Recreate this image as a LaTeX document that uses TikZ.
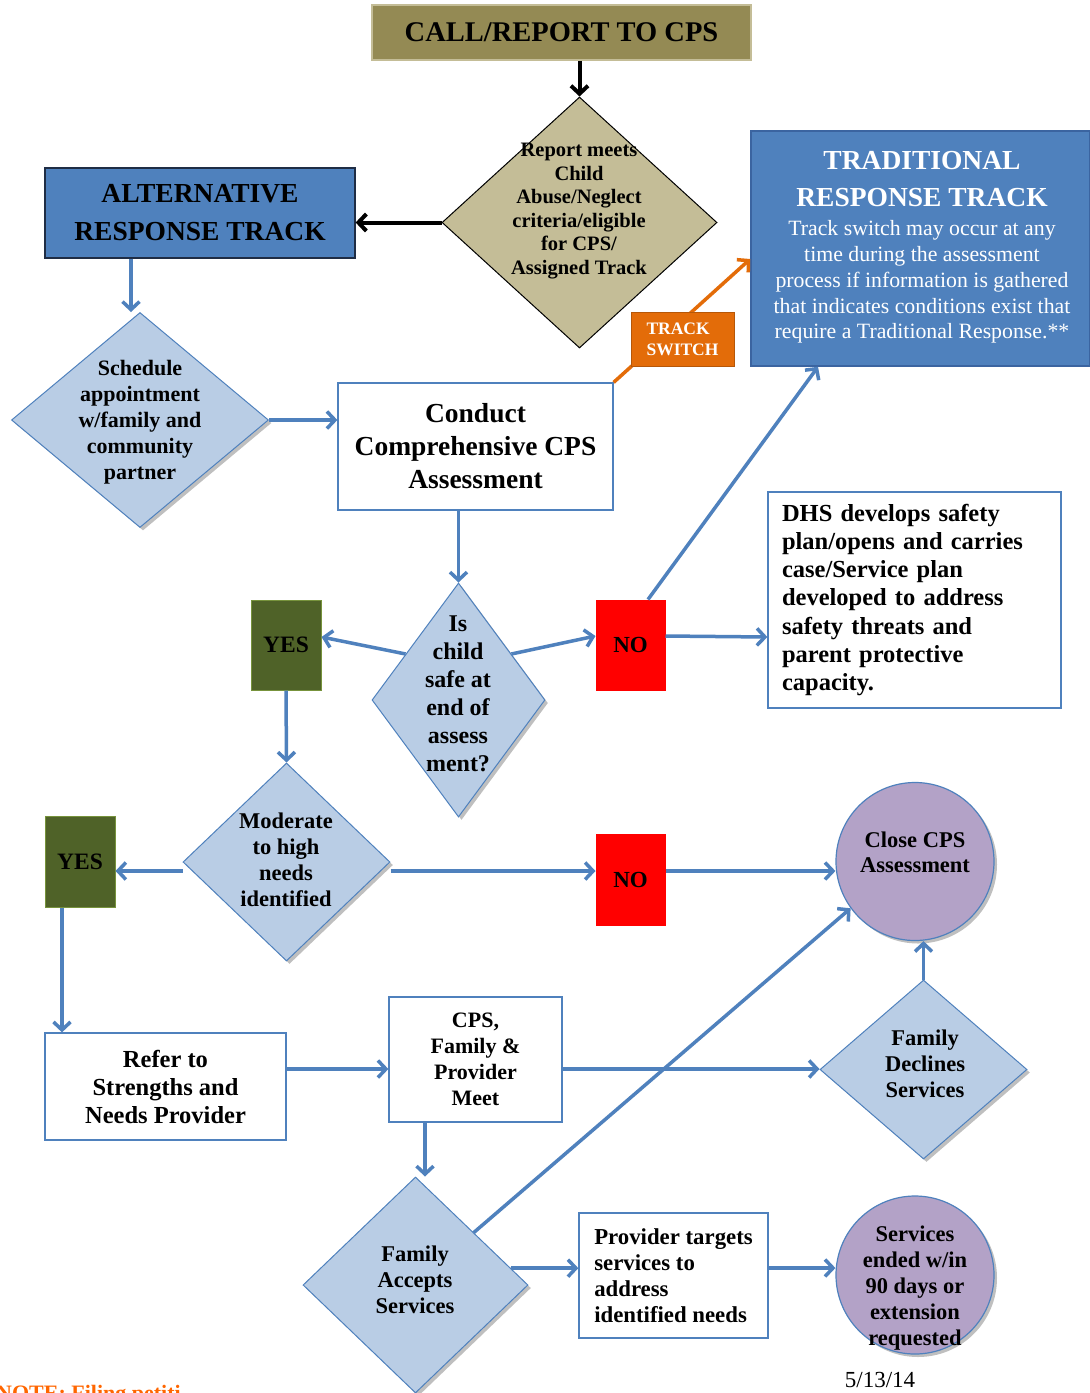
\documentclass[tikz,border=0pt]{standalone}
\usepackage{fontspec}
\setmainfont{Liberation Serif}
\usetikzlibrary{arrows.meta,shapes.geometric,shadows,calc}
\newcommand{\myfs}[2]{\fontsize{#1}{#2}\selectfont}
\definecolor{olivebox}{HTML}{948A54}
\definecolor{olivebd}{HTML}{C4BD97}
\definecolor{tanfill}{HTML}{C4BD97}
\definecolor{mblue}{HTML}{4F81BD}
\definecolor{ltblue}{HTML}{B9CDE5}
\definecolor{altbd}{HTML}{1F2D45}
\definecolor{tradbd}{HTML}{3B64A0}
\definecolor{ygreen}{HTML}{4F6228}
\definecolor{ygreenbd}{HTML}{77933C}
\definecolor{tsorange}{HTML}{E36C09}
\definecolor{tsorangebd}{HTML}{B65708}
\definecolor{purp}{HTML}{B3A2C7}
\definecolor{notecol}{HTML}{FF6600}
\begin{document}
\begin{tikzpicture}[x=1pt,y=-1pt,
  rbox/.style={rectangle, draw=mblue, line width=1.3pt, fill=white, inner sep=0pt, align=center},
  ldia/.style={diamond, draw=mblue, line width=1pt, fill=ltblue, inner sep=0pt,
     drop shadow={shadow xshift=3pt, shadow yshift=-3pt, opacity=0.25, fill=black}},
  pcirc/.style={circle, draw=mblue, line width=1.2pt, fill=purp, inner sep=0pt, minimum size=158pt,
     drop shadow={shadow xshift=3pt, shadow yshift=-3pt, opacity=0.25, fill=black}},
  dtext/.style={inner sep=0pt, align=center, font=\myfs{22.5}{26}\bfseries},
  yesbox/.style={rectangle, fill=ygreen, draw=ygreenbd, line width=1pt, inner sep=0pt,
     minimum width=70pt, font=\myfs{23.5}{26}\bfseries},
  nobox/.style={rectangle, fill=red, draw=red, line width=1pt, inner sep=0pt,
     minimum width=69pt, font=\myfs{23}{26}\bfseries},
  barr/.style={draw=mblue, line width=3.5pt, -{Straight Barb[length=8pt,width=17pt]}},
  karr/.style={draw=black, line width=4pt, -{Straight Barb[length=8pt,width=17pt]}},
  oarr/.style={draw=tsorange, line width=3.5pt, -{Straight Barb[length=8pt,width=17pt]}}
]
\useasboundingbox (0,0) rectangle (1090,1393);
\clip (0,0) rectangle (1090,1393);
\fill[white] (0,0) rectangle (1090,1393);

% top
\node[rectangle, fill=olivebox, draw=olivebd, line width=1.5pt, minimum width=379pt, minimum height=55pt,
  inner sep=0pt, font=\myfs{28.5}{32}\bfseries] (top) at (561.5,32.5) {CALL/REPORT TO CPS};

% report diamond
\node[diamond, draw=black, line width=1pt, fill=tanfill, minimum width=275pt, minimum height=251pt,
  inner sep=0pt] (rep) at (579.5,222.5) {};
\node[dtext, font=\myfs{20.5}{23.5}\bfseries] (rept) at (579,211)
  {Report meets\\Child\\Abuse/Neglect\\criteria/eligible\\for CPS/\\Assigned Track};

% alternative
\node[rectangle, fill=mblue, draw=altbd, line width=1.3pt, minimum width=310pt, minimum height=90pt,
  inner sep=0pt, align=center, font=\myfs{27.5}{38}\bfseries] (alt) at (200,213) {ALTERNATIVE\\RESPONSE TRACK};

% traditional
\node[rectangle, fill=mblue, draw=tradbd, line width=1.5pt, minimum width=339pt, minimum height=235pt,
  inner sep=0pt] (trad) at (920.5,248.5) {};
\node[text=white, align=center, inner sep=0pt, font=\myfs{27.5}{37}\bfseries] (tradh) at (922,179)
  {TRADITIONAL\\RESPONSE TRACK};
\node[text=white, align=center, inner sep=0pt, font=\myfs{21.8}{25.8}] (tradb) at (922,282)
  {Track switch may occur at any\\time during the assessment\\process if information is gathered\\that indicates conditions exist that\\require a Traditional Response.**};

% schedule
\node[ldia, minimum width=257pt, minimum height=215pt] (sched) at (140,420) {};
\node[dtext, font=\myfs{22}{26}\bfseries] (schedt) at (140,422)
  {Schedule\\appointment\\w/family and\\community\\partner};

% conduct
\node[rbox, minimum width=275pt, minimum height=127pt, font=\myfs{27.5}{33}\bfseries] (conduct) at (475.5,446.5)
  {Conduct\\Comprehensive CPS\\Assessment};

% child safe
\node[ldia, minimum width=173pt, minimum height=234pt] (child) at (458.5,700) {};
\node[dtext, font=\myfs{24}{28}\bfseries] (childt) at (458,694)
  {Is\\child\\safe at\\end of\\assess\\ment?};

\node[yesbox, minimum height=90pt] (yes1) at (286,645) {YES};
\node[nobox, minimum height=90pt] (no1) at (630.5,645) {NO};

% DHS
\node[rbox, minimum width=293pt, minimum height=216pt, text width=265pt, align=left,
  font=\myfs{24.5}{28.3}\bfseries] (dhs) at (914.5,600)
  {DHS develops safety\\plan/opens and carries\\case/Service plan\\developed to address\\safety threats and\\parent protective\\capacity.};

% moderate
\node[ldia, minimum width=207pt, minimum height=198pt] (mod) at (286.5,862) {};
\node[dtext] (modt) at (286,860) {Moderate\\to high\\needs\\identified};

\node[yesbox, minimum height=91pt] (yes2) at (80,861.5) {YES};
\node[nobox, minimum height=91pt] (no2) at (630.5,879.5) {NO};

% close
\node[pcirc] (close) at (915,861.5) {};
\node[dtext, font=\myfs{22.5}{25}\bfseries] (closet) at (915,852) {Close CPS\\Assessment};

% refer
\node[rbox, minimum width=241pt, minimum height=107pt, font=\myfs{24.5}{28}\bfseries] (refer) at (165.5,1086.5)
  {Refer to\\Strengths and\\Needs Provider};
% cps meet
\node[rbox, minimum width=173pt, minimum height=125pt, font=\myfs{22}{26}\bfseries] (cps) at (475.5,1059.5)
  {CPS,\\Family \&\\Provider\\Meet};

% declines
\node[ldia, minimum width=207pt, minimum height=179pt] (decl) at (923.5,1069.5) {};
\node[dtext] (declt) at (925,1064) {Family\\Declines\\Services};

% accepts
\node[ldia, minimum width=225pt, minimum height=216pt] (acc) at (415.5,1285) {};
\node[dtext] (acct) at (415,1280) {Family\\Accepts\\Services};

% provider
\node[rbox, minimum width=189pt, minimum height=125pt, align=left,
  font=\myfs{22.8}{26}\bfseries] (prov) at (673.5,1275.5)
  {Provider targets\\services to\\address\\identified needs};

% services ended
\node[pcirc] (serv) at (915,1275) {};
\node[dtext] (servt) at (915,1288) {Services\\ended w/in\\90 days or\\extension\\requested};

% date and note
\node[inner sep=0pt, font=\myfs{23}{26}] (date) at (880,1380) {5/13/14};
\node[inner sep=0pt, anchor=base west, text=notecol, font=\myfs{22}{26}\bfseries] (note) at (-4,1400)
  {NOTE: Filing petiti};

% connectors
\draw[karr] (top.south -| rep.north) -- (rep.north);
\draw[karr] (rep.west) -- (alt.east |- rep.west);
\draw[barr] (alt.south -| 131,0) -- (sched.north -| 131,0);
\draw[barr] (sched.east) -- (conduct.west |- sched.east);
\draw[barr] (conduct.south -| child.north) -- (child.north);
\draw[barr] (child.139) -- (yes1.east |- 0,637);
\draw[barr] (child.41) -- (no1.west |- 0,636);
\draw[barr] (no1.east |- 0,636) -- (dhs.west |- 0,637);
\draw[barr] (no1.north -| 648,0) -- (trad.south -| 818,0);
\draw[barr] (yes1.south) -- (mod.north);
\draw[barr] (mod.west |- 0,871) -- (yes2.east |- 0,871);
\draw[barr] (mod.east |- 0,871) -- (no2.west |- 0,871);
\draw[barr] (no2.east |- 0,871) -- (close.west |- 0,871);
\draw[barr] (yes2.south -| 62,0) -- (refer.north -| 62,0);
\draw[barr] (refer.east |- 0,1069) -- (cps.west |- 0,1069);
\draw[barr] (cps.east |- 0,1069) -- (decl.west |- 0,1069);
\draw[barr] (decl.north) -- (close.south -| decl.north);
\draw[barr] (cps.south -| 425,0) -- (acc.north -| 425,0);
\draw[barr] (acc.42) -- (close.216);
\draw[barr] (acc.10) -- (prov.west |- acc.10);
\draw[barr] (prov.east |- 0,1268) -- (serv.west |- 0,1268);

% track switch
\draw[oarr] (conduct.north east) -- (trad.west |- 0,259);
\node[rectangle, fill=tsorange, draw=tsorangebd, line width=1pt, minimum width=103pt, minimum height=54pt,
  inner sep=0pt, align=left, text=white, font=\myfs{17.5}{21}\bfseries] (sw) at (682.5,339) {TRACK\\SWITCH};
\end{tikzpicture}
\end{document}
